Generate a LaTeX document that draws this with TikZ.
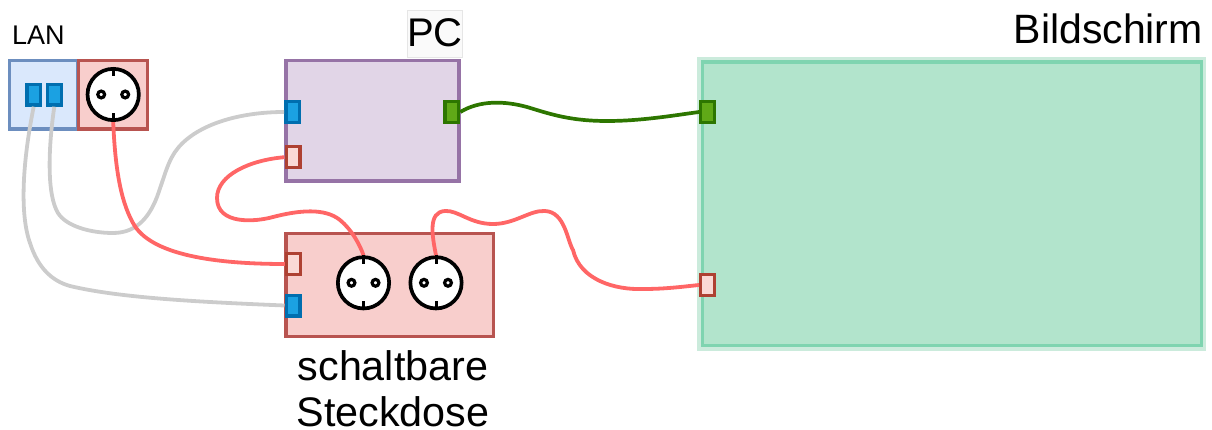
\documentclass[tikz,border=0pt]{standalone}
\usepackage{fontspec}
\setmainfont{Liberation Sans}
\usetikzlibrary{calc}
\definecolor{lanfill}{HTML}{DAE8FC}
\definecolor{landraw}{HTML}{6C8EBF}
\definecolor{redfill}{HTML}{F8CECC}
\definecolor{reddraw}{HTML}{B85450}
\definecolor{pcfill}{HTML}{E1D5E7}
\definecolor{pcdraw}{HTML}{9673A6}
\definecolor{monfill}{HTML}{B2E4CC}
\definecolor{mondraw}{HTML}{7FD4B0}
\definecolor{monhalo}{HTML}{CBEBDC}
\definecolor{portblue}{HTML}{1BA1E2}
\definecolor{portbluedraw}{HTML}{006EAF}
\definecolor{portgreen}{HTML}{60A917}
\definecolor{portgreendraw}{HTML}{2D7600}
\definecolor{portredfill}{HTML}{FAD9D5}
\definecolor{portreddraw}{HTML}{AE4132}
\definecolor{cablered}{HTML}{FF6666}
\definecolor{cablegray}{HTML}{CCCCCC}
\definecolor{cablegreen}{HTML}{2D7600}
\definecolor{pclabelfill}{HTML}{FAFAFA}
\definecolor{pclabeldraw}{HTML}{E6E6E6}
\tikzset{
  x=1pt,y=-1pt,
  boxbase/.style={draw,rectangle,line width=3.4pt,inner sep=0pt,anchor=north west},
  lanbox/.style={boxbase,fill=lanfill,draw=landraw},
  redbox/.style={boxbase,fill=redfill,draw=reddraw},
  pcbox/.style={boxbase,fill=pcfill,draw=pcdraw},
  monbox/.style={boxbase,fill=monfill,draw=mondraw,line width=3.6pt},
  portbase/.style={draw,rectangle,line width=3.3pt,inner sep=0pt,minimum width=13.7pt,minimum height=20.7pt},
  portB/.style={portbase,fill=portblue,draw=portbluedraw},
  portG/.style={portbase,fill=portgreen,draw=portgreendraw},
  portR/.style={portbase,fill=portredfill,draw=portreddraw},
  socket/.style={circle,draw=black,fill=white,line width=3.7pt,minimum size=51.3pt,inner sep=0pt},
  cableR/.style={draw=cablered,line width=3.8pt},
  cableK/.style={draw=cablegray,line width=3.8pt},
  cableG/.style={draw=cablegreen,line width=3.7pt},
  lbl/.style={inner sep=0pt,text=black},
}
\newcommand{\socketmarks}[1]{%
  \draw[black,line width=3pt] (#1.north) -- ++(0,9);
  \draw[black,line width=3pt] (#1.south) -- ++(0,-9);
  \draw[black,line width=3.2pt,fill=white] ($(#1.center)+(-12,0)$) circle[radius=3.4pt];
  \draw[black,line width=3.2pt,fill=white] ($(#1.center)+(12,0)$) circle[radius=3.4pt];
}
\begin{document}
\begin{tikzpicture}
\useasboundingbox (0,0) rectangle (1212,430);
% boxes
\node[lanbox,minimum width=68pt,minimum height=68.6pt] (lan) at (7.7,58.7) {};
\node[redbox,minimum width=69pt,minimum height=68.6pt] (lanpow) at (77,58.7) {};
\node[pcbox,minimum width=173pt,minimum height=120.6pt] (pc) at (284.3,58.7) {};
\node[redbox,minimum width=207.3pt,minimum height=103.2pt] (dose) at (284.3,231.7) {};
\fill[monhalo] (696.7,56.7) rectangle (1206,350.7);
\node[monbox,minimum width=499pt,minimum height=283.7pt] (mon) at (700.7,60) {};
% PC label
\node[draw=pclabeldraw,fill=pclabelfill,line width=.8pt,minimum width=55pt,minimum height=47.5pt,inner sep=0pt,anchor=north west,font=\fontsize{40}{40}\selectfont,text=black,text height=29pt,text depth=4pt] (pclabel) at (406.7,10) {PC};
% sockets
\node[socket] (s0) at (113.2,94.5) {};
\node[socket] (s1) at (363.5,282.8) {};
\node[socket] (s2) at (436,282.8) {};
% ports
\node[portB] (l1) at (33.7,94.7) {};
\node[portB] (l2) at (54.3,94.7) {};
\node[portB] (pcb) at (292.7,112) {};
\node[portR] (pcr) at (293,157.2) {};
\node[portG] (pcg) at (451.8,112) {};
\node[portG] (mong) at (707.5,112) {};
\node[portR] (monr) at (707.5,285) {};
\node[portR] (doser) at (293.3,264) {};
\node[portB] (doseb) at (293,305.5) {};
% cables
\draw[cableK] (l1.south) .. controls (22,165) and (20,215) .. (30,243) .. controls (38,268) and (52,281) .. (70,286) .. controls (120,298) and (200,302) .. (doseb.west);
\draw[cableK] (l2.south) .. controls (48,150) and (47,195) .. (58,213) .. controls (66,226) and (90,233) .. (113,233) .. controls (138,233) and (150,215) .. (157,197) .. controls (165,175) and (168,160) .. (178,148) .. controls (198,124) and (240,112) .. (pcb.west);
\draw[cableR] (s0.south) .. controls (115,165) and (120,200) .. (133,223) .. controls (150,255) and (215,264) .. (doser.west);
\draw[cableR] (pcr.west) .. controls (250,160) and (217,175) .. (217,198) .. controls (217,225) and (255,222) .. (273,217) .. controls (300,210) and (325,208) .. (340,220) .. controls (352,230) and (360,245) .. (s1.north);
\draw[cableR] (s2.north) .. controls (432,235) and (428,212) .. (445,211) .. controls (458,210) and (470,224) .. (493,224) .. controls (515,224) and (530,210) .. (545,211) .. controls (565,212) and (567,240) .. (573,250) .. controls (580,280) and (615,290) .. (643,289) .. controls (665,289) and (680,287) .. (monr.west);
\draw[cableG] (pcg.east) .. controls (480,100) and (505,101) .. (527,107) .. controls (550,114) and (570,121) .. (607,121) .. controls (640,121) and (670,116) .. (mong.west);
% socket marks
\socketmarks{s0}
\socketmarks{s1}
\socketmarks{s2}
% labels
\node[lbl,font=\fontsize{27}{27}\selectfont,anchor=base] (lanlabel) at (38.3,45) {LAN};
\node[lbl,font=\fontsize{41}{41}\selectfont,anchor=base east] (monlabel) at (1203,43.5) {Bildschirm};
\node[lbl,font=\fontsize{41.3}{41.3}\selectfont,anchor=base] (doselabel1) at (393,380) {schaltbare};
\node[lbl,font=\fontsize{41.3}{41.3}\selectfont,anchor=base,text depth=0pt] (doselabel2) at (393,426) {Steckdose};
\end{tikzpicture}
\end{document}
